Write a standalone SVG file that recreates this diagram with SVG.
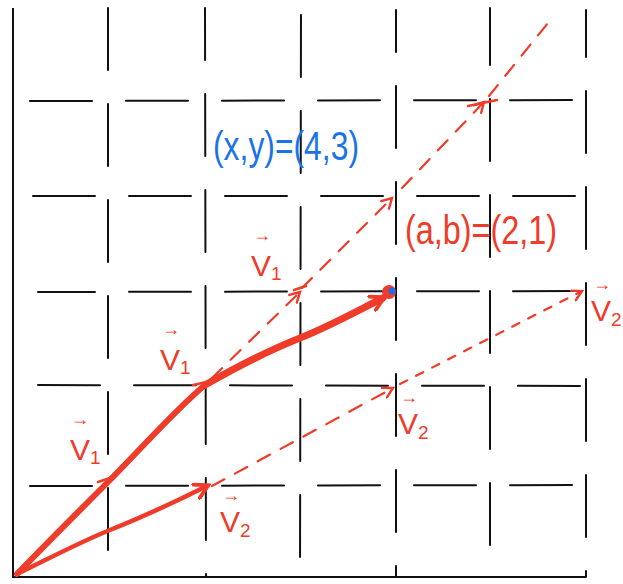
<svg xmlns="http://www.w3.org/2000/svg" width="623" height="584" viewBox="0 0 623 584">
<style>
.grid{stroke:#111;stroke-width:2;fill:none;stroke-dasharray:62 34;stroke-linecap:round}
.axis{stroke:#111;stroke-width:2;fill:none}
.red{stroke:#ee3b2a;fill:none;stroke-linecap:round;stroke-linejoin:round}
.dash{stroke-width:2.2;stroke-dasharray:14 12}
.dot{stroke-width:2.2;stroke-dasharray:8 10}
.lbl{font-family:"Liberation Sans",Arial,sans-serif;fill:#ee3b2a;font-size:30px}
.sub{font-size:19px}
.arr{font-family:"Liberation Sans",Arial,sans-serif;fill:#ee3b2a;font-size:18px;text-anchor:middle}
.coord{font-family:"Liberation Sans",Arial,sans-serif;font-size:40px}
</style>
<defs>
<marker id="ah" viewBox="0 0 12 12" refX="10" refY="6" markerWidth="13" markerHeight="13" markerUnits="userSpaceOnUse" orient="auto">
<path d="M1,1 L10,6 L1,11" fill="none" stroke="#ee3b2a" stroke-width="2.2" stroke-linecap="round"/>
</marker>
<marker id="ahb" viewBox="0 0 12 12" refX="9" refY="6" markerWidth="18" markerHeight="18" markerUnits="userSpaceOnUse" orient="auto">
<path d="M1,1 L10,6 L1,11" fill="none" stroke="#ee3b2a" stroke-width="2.5" stroke-linecap="round"/>
</marker>
</defs>
<rect width="623" height="584" fill="#fff"/>
<g id="grid">
<line class="axis" x1="13" y1="8" x2="13" y2="578"/>
<line class="axis" x1="12" y1="577" x2="586" y2="577"/>
<line class="grid" x1="108" y1="8" x2="108" y2="577" stroke-dashoffset="0"/>
<line class="grid" x1="205" y1="8" x2="206" y2="577" stroke-dashoffset="10"/>
<line class="grid" x1="301" y1="10" x2="300" y2="577" stroke-dashoffset="-5"/>
<line class="grid" x1="396" y1="10" x2="396" y2="577" stroke-dashoffset="20"/>
<line class="grid" x1="490" y1="8" x2="490" y2="577" stroke-dashoffset="5"/>
<line class="grid" x1="586" y1="10" x2="586" y2="577" stroke-dashoffset="15"/>
<line class="grid" x1="30" y1="101" x2="588" y2="100" stroke-dashoffset="0"/>
<line class="grid" x1="13" y1="196" x2="588" y2="196" stroke-dashoffset="-20"/>
<line class="grid" x1="38" y1="292" x2="588" y2="291" stroke-dashoffset="5"/>
<line class="grid" x1="30" y1="385" x2="588" y2="386" stroke-dashoffset="-8"/>
<line class="grid" x1="30" y1="486" x2="588" y2="485" stroke-dashoffset="0"/>
</g>
<g id="connectors">
<path class="red" d="M17,574 C50,540 80,510 108,482 C140,450 175,410 205,385" stroke-width="6"/>
<path class="red" d="M205,385 C240,365 270,350 300,338 C330,326 355,312 383,298" stroke-width="7" marker-end="url(#ahb)"/>
<path class="red" d="M17,574 C50,558 80,542 110,530 C145,516 175,502 207,486" stroke-width="4.5" marker-end="url(#ahb)"/>
<path class="red dash" d="M212,486 L393,388" marker-end="url(#ah)"/>
<path class="red dot" d="M400,384 L582,291" marker-end="url(#ah)"/>
<path class="red dash" d="M212,378 L300,292" marker-end="url(#ah)"/>
<path class="red dash" d="M302,288 L392,198" marker-end="url(#ah)"/>
<path class="red dash" d="M402,188 L484,102" marker-end="url(#ah)"/>
<path class="red dash" d="M489,96 L552,18"/>
<path class="red" d="M468,106 L497,100 M98,482 L116,476 M193,385 L216,380 M294,290 L306,286" stroke-width="2.5"/>
</g>
<g id="point">
<circle cx="389" cy="292" r="7" fill="#ee3b2a"/>
<circle cx="392" cy="291" r="3.5" fill="#1f6ee8"/>
</g>
<g id="labels">
<text class="coord" x="213" y="160" fill="#1a73e8" textLength="146" lengthAdjust="spacingAndGlyphs">(x,y)=(4,3)</text>
<text class="coord" x="405" y="244" fill="#ee3b2a" textLength="152" lengthAdjust="spacingAndGlyphs">(a,b)=(2,1)</text>
<g id="v1a"><text class="arr" x="80" y="425">→</text><text class="lbl" x="70" y="460">V<tspan class="sub" dy="4">1</tspan></text></g>
<g id="v1b"><text class="arr" x="171" y="335">→</text><text class="lbl" x="160" y="370">V<tspan class="sub" dy="4">1</tspan></text></g>
<g id="v1c"><text class="arr" x="262" y="241">→</text><text class="lbl" x="251" y="276">V<tspan class="sub" dy="4">1</tspan></text></g>
<g id="v2a"><text class="arr" x="231" y="501">→</text><text class="lbl" x="220" y="532">V<tspan class="sub" dy="5">2</tspan></text></g>
<g id="v2b"><text class="arr" x="409" y="403">→</text><text class="lbl" x="398" y="434">V<tspan class="sub" dy="5">2</tspan></text></g>
<g id="v2c"><text class="arr" x="602" y="290">→</text><text class="lbl" x="591" y="321">V<tspan class="sub" dy="5">2</tspan></text></g>
</g>
</svg>
